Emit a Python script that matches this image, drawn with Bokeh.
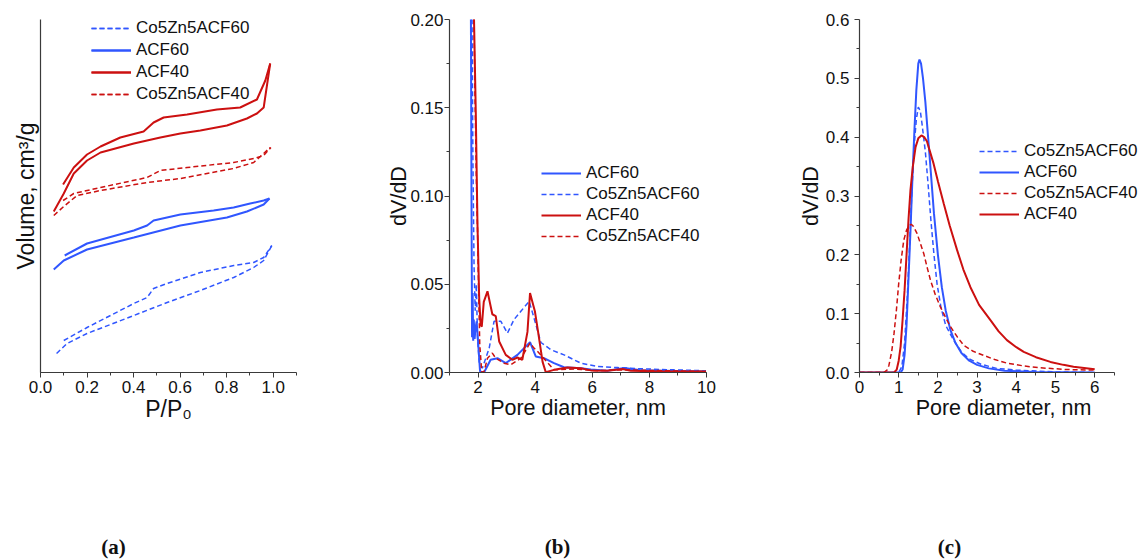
from bokeh.plotting import figure
from bokeh.layouts import row, column
from bokeh.models import (Range1d, SingleIntervalTicker, FixedTicker, NumeralTickFormatter,
                          Legend, LegendItem, Label)
from bokeh.embed import file_html
from bokeh.resources import INLINE

# ---------------- data: panel (a) isotherms (volume in arbitrary units) ----------------
acf40_ads_p = [0.057, 0.100, 0.143, 0.200, 0.258, 0.401, 0.515, 0.601, 0.687, 0.801, 0.887, 0.930, 0.959, 0.987]
acf40_ads_v = [161, 179, 199, 212, 220, 229, 235, 239, 242, 247, 254, 259, 265, 309]
acf40_des_p = [0.097, 0.143, 0.200, 0.258, 0.343, 0.443, 0.486, 0.529, 0.630, 0.758, 0.858, 0.930, 0.966, 0.987]
acf40_des_v = [188, 205, 218, 226, 235, 241, 250, 255, 258, 263, 265, 273, 292, 309]

co40_ads_p = [0.057, 0.100, 0.157, 0.258, 0.458, 0.601, 0.830, 0.916, 0.987]
co40_ads_v = [157, 166, 177, 182, 190, 194, 204, 210, 225]
co40_des_p = [0.097, 0.143, 0.258, 0.458, 0.515, 0.630, 0.830, 0.916, 0.959, 0.990]
co40_des_v = [172, 179, 185, 195, 202, 205, 210, 214, 217, 225]

acf60_ads_p = [0.057, 0.100, 0.200, 0.401, 0.601, 0.801, 0.887, 0.959, 0.984]
acf60_ads_v = [103, 112, 123, 135, 147, 155, 161, 168, 174]
acf60_des_p = [0.104, 0.200, 0.401, 0.458, 0.486, 0.601, 0.744, 0.830, 0.901, 0.959, 0.984]
acf60_des_v = [117, 129, 142, 147, 152, 158, 162, 165, 169, 172, 174]

co60_ads_p = [0.069, 0.114, 0.200, 0.401, 0.544, 0.687, 0.830, 0.916, 0.959, 0.994]
co60_ads_v = [19, 29, 39, 57, 70, 82, 95, 105, 112, 127]
co60_des_p = [0.100, 0.200, 0.401, 0.458, 0.486, 0.544, 0.687, 0.830, 0.916, 0.959, 0.994]
co60_des_v = [32, 45, 69, 75, 84, 89, 100, 107, 110, 115, 127]

# ---------------- data: panel (b) pore size distribution ----------------
b_acf60_d = [1.74, 1.77, 1.79, 1.81, 1.83, 1.85, 1.88, 1.91, 1.95, 2.00, 2.07, 2.21, 2.44, 2.68, 2.97, 3.38,
             3.82, 4.02, 4.31, 4.66, 5.01, 5.60, 5.95, 6.53, 7.12, 7.70, 8.51, 9.98]
b_acf60_v = [0.25, 0.10, 0.02, 0.045, 0.018, 0.03, 0.019, 0.025, 0.029, 0.0176, 0.0006, 0.0, 0.0072, 0.0081,
             0.0053, 0.010, 0.0172, 0.0091, 0.0081, 0.0053, 0.0030, 0.0024, 0.0017, 0.0010, 0.0025, 0.0013,
             0.0010, 0.0005]

b_co60_d = [1.77, 1.82, 1.86, 1.90, 1.94, 1.98, 2.04, 2.15, 2.39, 2.56, 2.80, 3.03, 3.26, 3.50, 3.79, 3.96,
            4.20, 4.55, 5.01, 5.60, 6.18, 6.88, 7.70, 8.86, 9.98]
b_co60_v = [0.25, 0.12, 0.06, 0.035, 0.05, 0.02, 0.006, 0.0024, 0.0138, 0.029, 0.029, 0.0223, 0.030, 0.0347,
            0.0403, 0.0309, 0.017, 0.0129, 0.0100, 0.0053, 0.0034, 0.0028, 0.0021, 0.0015, 0.0010]

b_acf40_d = [1.82, 1.86, 1.92, 1.98, 2.04, 2.09, 2.13, 2.20, 2.33, 2.50, 2.62, 2.74, 2.97, 3.20, 3.38, 3.55,
             3.73, 3.82, 3.99, 4.10, 4.26, 4.37, 4.66, 5.13, 5.60, 5.95, 6.53, 7.06, 7.35, 8.51, 9.98]
b_acf40_v = [0.25, 0.199, 0.148, 0.084, 0.042, 0.027, 0.026, 0.040, 0.046, 0.033, 0.032, 0.0176, 0.010,
             0.0072, 0.0085, 0.0072, 0.023, 0.045, 0.0347, 0.0233, 0.006, 0.0002, 0.0015, 0.0028, 0.0024,
             0.0012, 0.0010, 0.0020, 0.0010, 0.0006, 0.0005]

b_co40_d = [1.82, 1.88, 1.94, 1.98, 2.01, 2.06, 2.13, 2.21, 2.33, 2.50, 2.62, 2.91, 3.15, 3.50, 3.82, 3.96,
            4.08, 4.66, 5.36, 6.18, 7.12, 8.51, 9.98]
b_co40_v = [0.25, 0.17, 0.11, 0.082, 0.054, 0.0157, 0.0, 0.0006, 0.0081, 0.011, 0.0081, 0.0053, 0.0044,
            0.0081, 0.0166, 0.0138, 0.012, 0.0015, 0.0020, 0.0010, 0.0015, 0.0010, 0.0005]

# ---------------- data: panel (c) pore size distribution ----------------
c_acf60_d = [0, 1.05, 1.10, 1.15, 1.20, 1.25, 1.30, 1.35, 1.40, 1.45, 1.50, 1.53, 1.57, 1.62, 1.68, 1.75,
             1.82, 1.90, 2.00, 2.10, 2.20, 2.32, 2.45, 2.60, 2.80, 3.00, 3.30, 3.70, 4.50, 6.00]
c_acf60_v = [0, 0, 0.005, 0.03, 0.08, 0.16, 0.24, 0.33, 0.41, 0.48, 0.525, 0.532, 0.525, 0.50, 0.46, 0.40,
             0.34, 0.27, 0.20, 0.145, 0.105, 0.072, 0.05, 0.033, 0.02, 0.013, 0.007, 0.003, 0.001, 0.0]

c_co60_d = [0, 1.00, 1.08, 1.15, 1.22, 1.28, 1.34, 1.40, 1.45, 1.50, 1.55, 1.60, 1.68, 1.75, 1.82, 1.90,
            1.98, 2.08, 2.20, 2.40, 2.60, 2.80, 3.10, 3.50, 4.00, 5.00, 6.00]
c_co60_v = [0, 0, 0.01, 0.05, 0.13, 0.22, 0.315, 0.39, 0.43, 0.451, 0.445, 0.42, 0.375, 0.32, 0.26, 0.20,
            0.15, 0.11, 0.08, 0.055, 0.035, 0.023, 0.014, 0.007, 0.004, 0.001, 0.0]

c_acf40_d = [0, 0.88, 0.95, 1.00, 1.05, 1.10, 1.15, 1.20, 1.25, 1.30, 1.36, 1.43, 1.50, 1.58, 1.65, 1.72,
             1.80, 1.89, 2.00, 2.15, 2.30, 2.49, 2.65, 2.83, 3.05, 3.34, 3.55, 3.76, 4.00, 4.19, 4.50, 4.87,
             5.20, 5.46, 6.00]
c_acf40_v = [0, 0, 0.005, 0.02, 0.045, 0.09, 0.14, 0.20, 0.26, 0.31, 0.35, 0.383, 0.398, 0.403, 0.40,
             0.393, 0.375, 0.355, 0.325, 0.287, 0.25, 0.208, 0.175, 0.145, 0.115, 0.089, 0.07, 0.055, 0.043,
             0.035, 0.026, 0.018, 0.013, 0.0096, 0.0057]

c_co40_d = [0, 0.62, 0.70, 0.75, 0.82, 0.88, 0.94, 1.00, 1.06, 1.13, 1.20, 1.26, 1.32, 1.38, 1.47, 1.55,
            1.64, 1.72, 1.81, 1.93, 2.06, 2.20, 2.32, 2.50, 2.66, 2.90, 3.17, 3.45, 3.76, 4.20, 4.61, 5.30, 6.00]
c_co40_v = [0, 0, 0.004, 0.012, 0.035, 0.066, 0.105, 0.151, 0.19, 0.225, 0.242, 0.249, 0.252, 0.248,
            0.236, 0.22, 0.202, 0.18, 0.157, 0.133, 0.112, 0.093, 0.078, 0.06, 0.046, 0.036, 0.029, 0.022,
            0.016, 0.011, 0.008, 0.005, 0.004]

names = ["ACF60", "Co5Zn5ACF60", "ACF40", "Co5Zn5ACF40"]
captions = ["(a)", "(b)", "(c)"]
c_yticks = [0.0, 0.1, 0.2, 0.3, 0.4, 0.5, 0.6]
c_yminor = [0.05, 0.15, 0.25, 0.35, 0.45, 0.55]
b_yticks = [0.0, 0.05, 0.10, 0.15, 0.20]
b_yminor = [0.025, 0.075, 0.125, 0.175]

BLUE = "#3056ff"
RED = "#cc1010"
AX = "#3a3a3a"
FONT = "Liberation Sans"
SOLID_W = 2.0
DASH_W = 1.5
DASH = "5 3"
MAIN_H = 529


def make_fig(width, left, fw, xr, yr, xlabel, ylabel, label_size):
    right = width - left - fw
    p = figure(width=width, height=MAIN_H, frame_width=fw, frame_height=353,
               min_border_left=left, min_border_right=right, min_border_top=19,
               min_border_bottom=MAIN_H - 19 - 353, x_range=Range1d(*xr), y_range=Range1d(*yr),
               output_backend="svg", toolbar_location=None)
    p.outline_line_color = None
    p.grid.visible = False
    p.background_fill_color = "white"
    p.border_fill_color = "white"
    for ax in (p.xaxis[0], p.yaxis[0]):
        ax.axis_line_color = AX
        ax.axis_line_width = 1.2
        ax.major_tick_line_color = AX
        ax.minor_tick_line_color = AX
        ax.major_tick_in = 0
        ax.major_tick_out = 5
        ax.minor_tick_in = 0
        ax.minor_tick_out = 3
        ax.major_label_text_font = FONT
        ax.major_label_text_font_size = "17px"
        ax.major_label_text_color = "#111111"
        ax.axis_label_text_font = FONT
        ax.axis_label_text_font_size = label_size
        ax.axis_label_text_font_style = "normal"
        ax.axis_label_text_color = "#111111"
    p.xaxis.axis_label = xlabel
    p.yaxis.axis_label = ylabel
    p.xaxis.major_label_standoff = 3
    p.xaxis.axis_label_standoff = 0
    p.yaxis.major_label_standoff = 1
    return p


def add_legend(p, items, vx, vy, spacing):
    leg = Legend(items=[LegendItem(label=l, renderers=r) for l, r in items],
                 location=(vx, vy), padding=0, margin=0, border_line_color=None,
                 background_fill_alpha=0, glyph_width=40, glyph_height=20, label_height=20,
                 label_standoff=5, spacing=spacing, label_text_font=FONT,
                 label_text_font_size="17px", label_text_color="#111111")
    p.add_layout(leg)


# ---------------- panel (a) ----------------
pa = make_fig(380, 40, 256, (0, 1.1), (0, 353), "P/P\u2080", "Volume, cm\u00b3/g", "23px")
pa.xaxis.ticker = SingleIntervalTicker(interval=0.2, num_minor_ticks=2)
pa.xaxis.formatter = NumeralTickFormatter(format="0.0")
pa.yaxis.ticker = FixedTicker(ticks=[])
pa.yaxis.major_tick_out = 0
pa.yaxis.minor_tick_out = 0
pa.yaxis.major_label_standoff = 0
pa.yaxis.axis_label_standoff = 2

r_co60 = [pa.line(co60_ads_p, co60_ads_v, line_color=BLUE, line_width=DASH_W, line_dash=DASH),
          pa.line(co60_des_p, co60_des_v, line_color=BLUE, line_width=DASH_W, line_dash=DASH)]
r_acf60 = [pa.line(acf60_ads_p, acf60_ads_v, line_color=BLUE, line_width=SOLID_W),
           pa.line(acf60_des_p, acf60_des_v, line_color=BLUE, line_width=SOLID_W)]
r_acf40 = [pa.line(acf40_ads_p, acf40_ads_v, line_color=RED, line_width=SOLID_W),
           pa.line(acf40_des_p, acf40_des_v, line_color=RED, line_width=SOLID_W)]
r_co40 = [pa.line(co40_ads_p, co40_ads_v, line_color=RED, line_width=DASH_W, line_dash=DASH),
          pa.line(co40_des_p, co40_des_v, line_color=RED, line_width=DASH_W, line_dash=DASH)]
add_legend(pa, [(names[1], r_co60), (names[0], r_acf60), (names[2], r_acf40), (names[3], r_co40)],
           51, 268, 2)

# ---------------- panel (b) ----------------
pb = make_fig(410, 69, 257, (1, 10), (0, 0.2), "Pore diameter, nm", "dV/dD", "21.5px")
pb.xaxis.ticker = SingleIntervalTicker(interval=2, num_minor_ticks=2)
pb.yaxis.ticker = FixedTicker(ticks=b_yticks, minor_ticks=b_yminor)
pb.yaxis.formatter = NumeralTickFormatter(format="0.00")
pb.yaxis.axis_label_standoff = -4

rb1 = pb.line(b_acf60_d, b_acf60_v, line_color=BLUE, line_width=SOLID_W)
rb2 = pb.line(b_co60_d, b_co60_v, line_color=BLUE, line_width=DASH_W, line_dash=DASH)
rb3 = pb.line(b_acf40_d, b_acf40_v, line_color=RED, line_width=SOLID_W)
rb4 = pb.line(b_co40_d, b_co40_v, line_color=RED, line_width=DASH_W, line_dash=DASH)
add_legend(pb, [(names[0], [rb1]), (names[1], [rb2]), (names[2], [rb3]), (names[3], [rb4])],
           92, 126, 1)

# ---------------- panel (c) ----------------
PX_PER_NM = 39.2
pc = make_fig(357, 69, 288, (0, 288 / PX_PER_NM), (0, 0.6), "Pore diameter, nm", "dV/dD", "21.5px")
pc.xaxis.ticker = SingleIntervalTicker(interval=1, num_minor_ticks=2)
pc.xaxis.bounds = (0, 6.5)
pc.yaxis.ticker = FixedTicker(ticks=c_yticks, minor_ticks=c_yminor)
pc.yaxis.formatter = NumeralTickFormatter(format="0.0")
pc.yaxis.major_label_standoff = 5
pc.yaxis.axis_label_standoff = 0

rc2 = pc.line(c_co60_d, c_co60_v, line_color=BLUE, line_width=DASH_W, line_dash=DASH)
rc1 = pc.line(c_acf60_d, c_acf60_v, line_color=BLUE, line_width=SOLID_W)
rc4 = pc.line(c_co40_d, c_co40_v, line_color=RED, line_width=DASH_W, line_dash=DASH)
rc3 = pc.line(c_acf40_d, c_acf40_v, line_color=RED, line_width=SOLID_W)
add_legend(pc, [(names[1], [rc2]), (names[0], [rc1]), (names[3], [rc4]), (names[2], [rc3])],
           120, 148, 1)

# ---------------- captions strip ----------------
CAP_H = 559 - MAIN_H
cap = figure(width=1147, height=CAP_H, x_range=Range1d(0, 1147), y_range=Range1d(0, CAP_H),
             x_axis_type=None, y_axis_type=None, min_border=0,
             output_backend="svg", toolbar_location=None)
cap.outline_line_color = None
cap.grid.visible = False
for text, cx in zip(captions, [113, 557, 949]):
    cap.add_layout(Label(x=cx, y=CAP_H - 17, text=text, text_align="center", text_baseline="middle",
                         text_font="Liberation Serif", text_font_size="21px",
                         text_font_style="bold", text_color="#111111"))

layout = column(row(pa, pb, pc), cap)
open("out.html", "w").write(file_html(layout, INLINE))
